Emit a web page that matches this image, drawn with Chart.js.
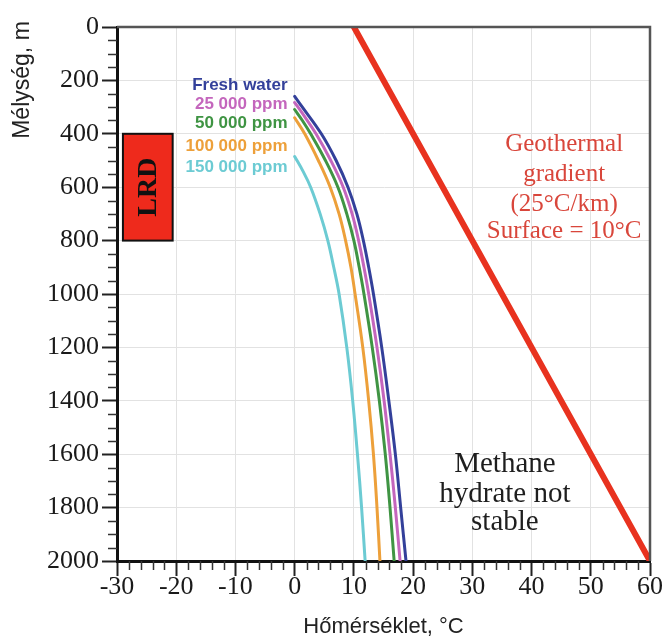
<!DOCTYPE html>
<html>
<head>
<meta charset="utf-8">
<script src="https://cdn.jsdelivr.net/npm/chart.js@4.4.1/dist/chart.umd.min.js"></script>
<style>
  html, body { margin: 0; padding: 0; background: #fff; }
  #wrap { width: 667px; height: 642px; position: relative; }
</style>
</head>
<body>
<div id="wrap"><canvas id="myChart"></canvas></div>
<script>
// hydrate stability curves: depth (m) and temperature (°C)
var freshDepth = [260, 300, 400, 500, 600, 700, 800, 900, 1000, 1200, 1400, 1600, 1800, 2000];
var freshTemp  = [0, 1.3, 4.5, 7.0, 9.0, 10.5, 11.6, 12.5, 13.3, 14.7, 15.9, 17.0, 17.9, 18.8];

var ppm25Depth = [283, 320, 400, 500, 600, 700, 800, 900, 1000, 1200, 1400, 1600, 1800, 2000];
var ppm25Temp  = [0, 1.2, 3.6, 6.1, 8.2, 9.7, 10.8, 11.7, 12.5, 13.9, 15.1, 16.1, 17.0, 17.8];

var ppm50Depth = [309, 350, 400, 500, 600, 700, 800, 900, 1000, 1200, 1400, 1600, 1800, 2000];
var ppm50Temp  = [0, 1.3, 2.7, 5.2, 7.3, 8.8, 10.0, 10.9, 11.7, 13.1, 14.3, 15.3, 16.1, 16.8];

var ppm100Depth = [340, 400, 500, 600, 700, 800, 900, 1000, 1200, 1400, 1600, 1800, 2000];
var ppm100Temp  = [0, 1.7, 4.0, 6.0, 7.5, 8.6, 9.5, 10.2, 11.5, 12.5, 13.3, 13.9, 14.4];

var ppm150Depth = [485, 540, 600, 700, 800, 900, 1000, 1200, 1400, 1600, 1800, 2000];
var ppm150Temp  = [0, 1.4, 2.7, 4.3, 5.6, 6.6, 7.5, 8.8, 9.8, 10.6, 11.3, 11.9];

// geothermal gradient 25°C/km, surface 10°C
var geoDepth = [0, 2000];
var geoTemp  = [10, 60];

var seriesNames  = ['Fresh water', '25 000 ppm', '50 000 ppm', '100 000 ppm', '150 000 ppm'];
var seriesColors = ['#33409a', '#c466bd', '#3f9443', '#eda03a', '#6ccbd3'];
var labelDepths  = [219, 290, 362, 447, 526];

var depthTicks = [0, 200, 400, 600, 800, 1000, 1200, 1400, 1600, 1800, 2000];
var tempTicks  = [-30, -20, -10, 0, 10, 20, 30, 40, 50, 60];

function toPoints(temps, depths) {
    var pts = [];
    for (var i = 0; i < temps.length; i++) {
        pts.push({ x: temps[i], y: depths[i] });
    }
    return pts;
}

var curveData = [
    toPoints(freshTemp, freshDepth),
    toPoints(ppm25Temp, ppm25Depth),
    toPoints(ppm50Temp, ppm50Depth),
    toPoints(ppm100Temp, ppm100Depth),
    toPoints(ppm150Temp, ppm150Depth)
];

var datasets = [];
datasets.push({
    label: 'Geothermal gradient',
    data: toPoints(geoTemp, geoDepth),
    borderColor: '#e8321f',
    borderWidth: 6,
    borderCapStyle: 'round',
    pointRadius: 0,
    showLine: true
});
for (var i = seriesNames.length - 1; i >= 0; i--) {
    datasets.push({
        label: seriesNames[i],
        data: curveData[i],
        borderColor: seriesColors[i],
        borderWidth: 3,
        borderCapStyle: 'round',
        pointRadius: 0,
        showLine: true,
        tension: 0.4
    });
}

// frame, minor ticks, text labels and the LRD box
var extrasPlugin = {
    id: 'extras',
    afterDraw: function (chart) {
        var ctx = chart.ctx;
        var xs = chart.scales.x, ys = chart.scales.y;
        var area = chart.chartArea;
        ctx.save();

        // top and right frame
        ctx.strokeStyle = '#555';
        ctx.lineWidth = 2.5;
        ctx.beginPath();
        ctx.moveTo(area.left, area.top);
        ctx.lineTo(area.right, area.top);
        ctx.lineTo(area.right, area.bottom);
        ctx.stroke();

        // minor ticks
        ctx.strokeStyle = '#333';
        ctx.lineWidth = 1.5;
        ctx.beginPath();
        for (var d = 50; d < 2000; d += 50) {
            if (d % 200 === 0) continue;
            var py = Math.round(ys.getPixelForValue(d)) + 0.5;
            ctx.moveTo(area.left - 9, py);
            ctx.lineTo(area.left, py);
        }
        for (var t = -28; t < 60; t += 2) {
            if (t % 10 === 0) continue;
            var px = Math.round(xs.getPixelForValue(t)) + 0.5;
            ctx.moveTo(px, area.bottom);
            ctx.lineTo(px, area.bottom + 9);
        }
        ctx.stroke();

        // y axis title, near the top of the axis
        ctx.save();
        ctx.translate(23, 80);
        ctx.rotate(-Math.PI / 2);
        ctx.fillStyle = '#222';
        ctx.textAlign = 'center';
        ctx.textBaseline = 'middle';
        ctx.font = '23px "Liberation Sans", Arial, sans-serif';
        ctx.fillText('Mélység, m', 0, 0);
        ctx.restore();

        // curve labels
        ctx.font = 'bold 17px "Liberation Sans", Arial, sans-serif';
        ctx.textAlign = 'right';
        ctx.textBaseline = 'middle';
        for (var k = 0; k < seriesNames.length; k++) {
            ctx.fillStyle = seriesColors[k];
            ctx.fillText(seriesNames[k], xs.getPixelForValue(-1.2), ys.getPixelForValue(labelDepths[k]));
        }

        // LRD box
        var bx0 = xs.getPixelForValue(-29), bx1 = xs.getPixelForValue(-20.6);
        var by0 = ys.getPixelForValue(400), by1 = ys.getPixelForValue(800);
        ctx.fillStyle = '#ee2a1c';
        ctx.fillRect(bx0, by0, bx1 - bx0, by1 - by0);
        ctx.strokeStyle = '#111';
        ctx.lineWidth = 2;
        ctx.strokeRect(bx0, by0, bx1 - bx0, by1 - by0);
        ctx.save();
        ctx.translate((bx0 + bx1) / 2, (by0 + by1) / 2);
        ctx.rotate(-Math.PI / 2);
        ctx.fillStyle = '#111';
        ctx.textAlign = 'center';
        ctx.font = 'bold 28px "Liberation Serif", "Times New Roman", serif';
        ctx.fillText('LRD', 0, 1);
        ctx.restore();

        // geothermal note
        ctx.fillStyle = '#d9463b';
        ctx.textAlign = 'center';
        ctx.font = '25px "Liberation Serif", "Times New Roman", serif';
        var gx = xs.getPixelForValue(45.5);
        var gLines = ['Geothermal', 'gradient', '(25°C/km)', 'Surface = 10°C'];
        var gDepth = [440, 553, 665, 766];
        for (var g = 0; g < gLines.length; g++) {
            ctx.fillText(gLines[g], gx, ys.getPixelForValue(gDepth[g]));
        }

        // stability note
        ctx.fillStyle = '#1e1e1e';
        ctx.font = '29px "Liberation Serif", "Times New Roman", serif';
        var mx = xs.getPixelForValue(35.5);
        var mLines = ['Methane', 'hydrate not', 'stable'];
        var mDepth = [1638, 1750, 1855];
        for (var m = 0; m < mLines.length; m++) {
            ctx.fillText(mLines[m], mx, ys.getPixelForValue(mDepth[m]));
        }
        ctx.restore();
    }
};

var ctx = document.getElementById('myChart').getContext('2d');
var myChart = new Chart(ctx, {
    type: 'scatter',
    data: { datasets: datasets },
    options: {
        responsive: true,
        maintainAspectRatio: false,
        animation: false,
        layout: { padding: { top: 27, right: 17, left: 0, bottom: 0 } },
        plugins: {
            legend: { display: false },
            tooltip: { enabled: false }
        },
        scales: {
            x: {
                type: 'linear',
                min: tempTicks[0],
                max: tempTicks[tempTicks.length - 1],
                afterBuildTicks: function (scale) {
                    scale.ticks = tempTicks.map(function (v) { return { value: v }; });
                },
                ticks: {
                    color: '#1a1a1a',
                    font: { family: '"Liberation Serif", "Times New Roman", serif', size: 26 },
                    padding: -4,
                    maxRotation: 0,
                    callback: function (v) { return String(v); }
                },
                grid: { color: '#e2e2e2', lineWidth: 1, drawTicks: true, tickLength: 15, tickColor: '#222', tickWidth: 2 },
                border: { color: '#111', width: 3 },
                title: {
                    display: true,
                    text: 'Hőmérséklet, °C',
                    color: '#222',
                    font: { family: '"Liberation Sans", Arial, sans-serif', size: 22 },
                    padding: { top: 0, bottom: 2 }
                },
                afterFit: function (scale) { scale.height = 81; }
            },
            y: {
                type: 'linear',
                reverse: true,
                min: depthTicks[0],
                max: depthTicks[depthTicks.length - 1],
                afterBuildTicks: function (scale) {
                    scale.ticks = depthTicks.map(function (v) { return { value: v }; });
                },
                ticks: {
                    color: '#1a1a1a',
                    font: { family: '"Liberation Serif", "Times New Roman", serif', size: 26 },
                    padding: 3,
                    callback: function (v) { return String(v); }
                },
                grid: { color: '#e2e2e2', lineWidth: 1, drawTicks: true, tickLength: 15, tickColor: '#222', tickWidth: 2 },
                border: { color: '#111', width: 3 },
                afterFit: function (scale) { scale.width = 117; }
            }
        }
    },
    plugins: [extrasPlugin]
});
</script>
</body>
</html>
